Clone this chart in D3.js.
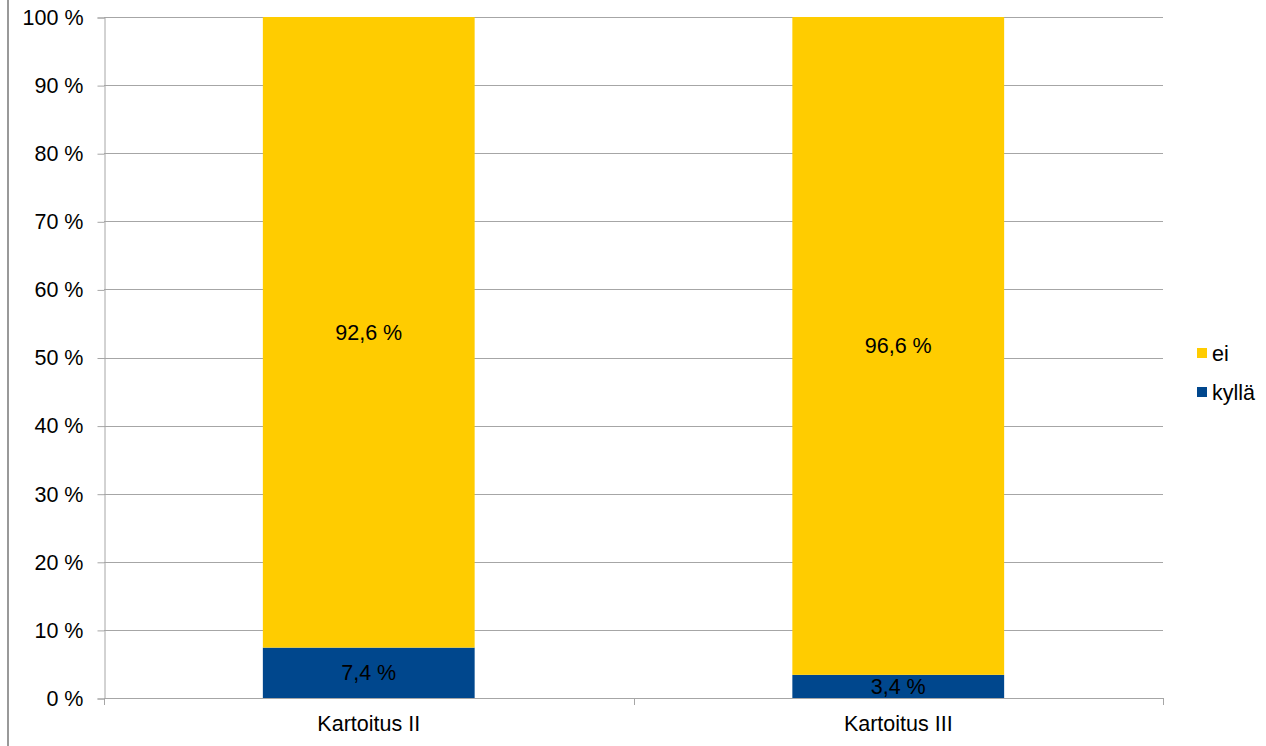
<!DOCTYPE html>
<html>
<head>
<meta charset="utf-8">
<script src="https://cdn.jsdelivr.net/npm/d3@7"></script>
<style>
  html, body { margin: 0; padding: 0; background: #fff; }
  svg { display: block; font-family: "Liberation Sans", Arial, sans-serif; }
</style>
</head>
<body>
<svg id="chart" width="1266" height="746"></svg>
<script>
// Survey rounds and answer shares (percent)
const categories = ["Kartoitus II", "Kartoitus III"];
const kylla = [7.4, 3.4];
const ei = [92.6, 96.6];
const seriesNames = ["kyllä", "ei"];
const seriesColors = ["#00478D", "#FFCC00"];
const yTicks = [0, 10, 20, 30, 40, 50, 60, 70, 80, 90, 100];

const FONT = 21.5;
const svg = d3.select("#chart");
const plot = { left: 104, right: 1163, top: 17, bottom: 698 };

const x = d3.scaleBand()
  .domain(categories)
  .range([plot.left, plot.right])
  .paddingInner(0.6)
  .paddingOuter(0.3);

const y = d3.scaleLinear()
  .domain([0, 100])
  .range([plot.bottom, plot.top]);

const fmt = v => v.toFixed(1).replace(".", ",") + " %";

// outer frame on the left edge
svg.append("line")
  .attr("x1", 8).attr("x2", 8).attr("y1", 0).attr("y2", 746)
  .attr("stroke", "#999").attr("stroke-width", 2);

// horizontal gridlines
svg.append("g")
  .selectAll("line")
  .data(yTicks)
  .join("line")
  .attr("x1", plot.left).attr("x2", plot.right)
  .attr("y1", d => Math.round(y(d)) + 0.5).attr("y2", d => Math.round(y(d)) + 0.5)
  .attr("stroke", "#A6A6A6").attr("stroke-width", 1);

// y axis
const yAxis = d3.axisLeft(y).tickValues(yTicks).tickFormat(d => d + " %").tickSize(7).tickPadding(14);
const gy = svg.append("g").attr("transform", `translate(${plot.left + 0.5},0.5)`).call(yAxis);
gy.select(".domain").attr("stroke", "#A6A6A6");
gy.selectAll(".tick line").attr("stroke", "#A6A6A6");
gy.selectAll(".tick text").attr("font-size", FONT).attr("fill", "#000")
  .attr("font-family", "'Liberation Sans', Arial, sans-serif");

// stacked bars
const stacked = categories.map((c, i) => ({ cat: c, vals: [kylla[i], ei[i]] }));
const barG = svg.append("g");
stacked.forEach(d => {
  let base = 0;
  d.vals.forEach((v, s) => {
    const y0 = y(base), y1 = y(base + v);
    barG.append("rect")
      .attr("x", x(d.cat)).attr("width", x.bandwidth())
      .attr("y", y1).attr("height", y0 - y1)
      .attr("fill", seriesColors[s]);
    barG.append("text")
      .attr("x", x(d.cat) + x.bandwidth() / 2)
      .attr("y", (y0 + y1) / 2)
      .attr("dy", "0.35em")
      .attr("text-anchor", "middle")
      .attr("font-size", FONT).attr("fill", "#000")
      .text(fmt(v));
    base += v;
  });
});

// x axis with boundary ticks between categories
svg.append("line")
  .attr("x1", plot.left).attr("x2", plot.right)
  .attr("y1", plot.bottom + 0.5).attr("y2", plot.bottom + 0.5)
  .attr("stroke", "#A6A6A6");
const step = x.step();
const bounds = [plot.left, plot.left + step, plot.right];
svg.append("g").selectAll("line").data(bounds).join("line")
  .attr("x1", d => Math.round(d) + 0.5).attr("x2", d => Math.round(d) + 0.5)
  .attr("y1", plot.bottom).attr("y2", plot.bottom + 7)
  .attr("stroke", "#A6A6A6");
svg.append("g").selectAll("text").data(categories).join("text")
  .attr("x", d => x(d) + x.bandwidth() / 2)
  .attr("y", 731)
  .attr("text-anchor", "middle")
  .attr("font-size", FONT).attr("fill", "#000")
  .text(d => d);

// legend
const legendItems = [{ name: seriesNames[1], color: seriesColors[1] }, { name: seriesNames[0], color: seriesColors[0] }];
const lg = svg.append("g").attr("transform", "translate(1197,0)");
legendItems.forEach((d, i) => {
  const cy = 353 + i * 39;
  lg.append("rect").attr("x", 0).attr("y", cy - 5).attr("width", 10).attr("height", 10).attr("fill", d.color);
  lg.append("text").attr("x", 15).attr("y", cy).attr("dy", "0.35em")
    .attr("font-size", FONT).attr("fill", "#000").text(d.name);
});
</script>
</body>
</html>
